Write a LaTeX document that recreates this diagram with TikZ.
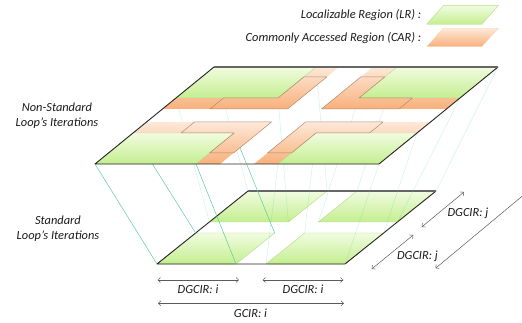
\documentclass[tikz,border=0pt]{standalone}
\usepackage{fontspec}
\setmainfont{Carlito}
\usetikzlibrary{arrows.meta}

\definecolor{lrtop}{HTML}{F1FCE0}
\definecolor{lrbot}{HTML}{C4EE90}
\definecolor{lredge}{HTML}{B2DC84}
\definecolor{cartop}{HTML}{FDE8D9}
\definecolor{carbot}{HTML}{F8B07A}
\definecolor{caredge}{HTML}{B48A6C}
\definecolor{mint}{HTML}{5CCF98}
\definecolor{txt}{HTML}{1A1A1A}
\definecolor{dimarrow}{HTML}{5A5A5A}

\tikzset{barb/.tip={Straight Barb[length=2.6pt,width=5pt]}}

\begin{document}
\begin{tikzpicture}[x=1pt,y=-1pt,
  topplane/.style={shift={(95,164)}, x={(1pt,0pt)}, y={(1.2268pt,1pt)}},
  lowplane/.style={shift={(157,264)}, x={(1pt,0pt)}, y={(1.247pt,1pt)}},
  lrregion/.style={top color=lrtop, bottom color=lrbot, draw=lredge, line width=0.4pt},
  carregion/.style={top color=cartop, bottom color=carbot},
  carline/.style={draw=caredge, line width=0.5pt, line join=round},
  rim/.style={draw=black!85, line width=0.9pt, line join=round},
  rimtop/.style={draw=black!60, line width=1.1pt},
  brightlink/.style={draw=mint, line width=0.5pt},
  faintlink/.style={draw=mint, draw opacity=0.28, line width=0.5pt},
  dim/.style={draw=dimarrow, line width=0.5pt, barb-barb},
  lbl/.style={font=\fontsize{12.4}{15.5}\selectfont\itshape, text=txt, inner sep=0pt, align=center}]

\useasboundingbox (0,0) rectangle (522,323);

% ---- corner points of the localizable regions, upper plane
\begin{scope}[topplane]
  \coordinate (tLL1) at (0,0);    \coordinate (tLL2) at (101,0);
  \coordinate (tLL3) at (101,31); \coordinate (tLL4) at (0,31);
  \coordinate (tLR1) at (183,0);  \coordinate (tLR2) at (284,0);
  \coordinate (tLR3) at (284,31); \coordinate (tLR4) at (183,31);
  \coordinate (tUL1) at (0,66);   \coordinate (tUL2) at (102,66);
  \coordinate (tUL3) at (102,97); \coordinate (tUL4) at (0,97);
  \coordinate (tUR1) at (183,66); \coordinate (tUR2) at (284,66);
  \coordinate (tUR3) at (284,97); \coordinate (tUR4) at (183,97);
\end{scope}

% ---- lower plane: standard iterations
\begin{scope}[lowplane]
  \coordinate (bLL1) at (0,0);    \coordinate (bLL2) at (79,0);
  \coordinate (bLL3) at (79,31);  \coordinate (bLL4) at (0,31);
  \coordinate (bLR1) at (109,0);  \coordinate (bLR2) at (188,0);
  \coordinate (bLR3) at (188,31); \coordinate (bLR4) at (109,31);
  \coordinate (bUL1) at (0,42);   \coordinate (bUL2) at (79,42);
  \coordinate (bUL3) at (79,73);  \coordinate (bUL4) at (0,73);
  \coordinate (bUR1) at (109,42); \coordinate (bUR2) at (188,42);
  \coordinate (bUR3) at (188,73); \coordinate (bUR4) at (109,73);
  \coordinate (lp1) at (0,0);   \coordinate (lp2) at (188,0);
  \coordinate (lp3) at (188,73); \coordinate (lp4) at (0,73);

  \foreach \r in {LL,LR,UL,UR}
    \path[lrregion] (b\r1) -- (b\r2) -- (b\r3) -- (b\r4) -- cycle;

  \draw[rim] (lp4) -- (lp1) -- (lp2) -- (lp3);
  \draw[rimtop] (lp3) -- (lp4);
\end{scope}

% ---- links between matching corners of the two planes
\foreach \k in {1,...,4}
  \draw[brightlink] (tLL\k) -- (bLL\k);
\foreach \r in {LR,UL,UR}
  \foreach \k in {1,...,4}
    \draw[faintlink] (t\r\k) -- (b\r\k);

% ---- upper plane: non-standard iterations
\begin{scope}[topplane]
  \coordinate (tp1) at (0,0);    \coordinate (tp2) at (284,0);
  \coordinate (tp3) at (284,97); \coordinate (tp4) at (0,97);

  % commonly accessed regions
  \path[carregion] (0,55) -- (125,55) -- (125,97) -- (102,97) -- (102,66) -- (0,66) -- cycle;
  \path[carregion] (159,55) -- (284,55) -- (284,66) -- (183,66) -- (183,97) -- (159,97) -- cycle;
  \path[carregion] (0,31) -- (101,31) -- (101,0) -- (125,0) -- (125,42) -- (0,42) -- cycle;
  \path[carregion] (159,0) -- (183,0) -- (183,31) -- (284,31) -- (284,42) -- (159,42) -- cycle;

  % localizable regions
  \foreach \r in {LL,LR,UL,UR}
    \path[lrregion] (t\r1) -- (t\r2) -- (t\r3) -- (t\r4) -- cycle;

  % outlined cores of the CAR strips
  \draw[carline] (47.5,55) -- (125,55) -- (125,87) -- (102,87) -- (102,66) -- (47.5,66) -- cycle;
  \draw[carline] (159,55) -- (236.5,55) -- (236.5,66) -- (183,66) -- (183,87) -- (159,87) -- cycle;
  \draw[carline] (48,31) -- (48,42) -- (125,42) -- (125,11) -- (101,11) -- (101,31) -- cycle;
  \draw[carline] (159,11) -- (183,11) -- (183,31) -- (236.5,31) -- (236.5,42) -- (159,42) -- cycle;

  \draw[rim] (tp4) -- (tp1) -- (tp2) -- (tp3);
  \draw[rimtop] (tp3) -- (tp4);
\end{scope}

% ---- side labels
\node[lbl] (nonstd) at (57,115.5) {Non-Standard\\Loop's Iterations};
\node[lbl] (std) at (58,228.5) {Standard\\Loop's Iterations};

% ---- distance markers
\coordinate (di1a) at (157.5,280);  \coordinate (di1b) at (239,280);
\coordinate (di2a) at (262.5,280);  \coordinate (di2b) at (343.5,280);
\coordinate (gia)  at (158,303.3);  \coordinate (gib)  at (344,303.3);
\coordinate (dj1a) at (421.7,227);  \coordinate (dj1b) at (464,192);
\coordinate (dj2a) at (371.7,269);  \coordinate (dj2b) at (413.3,235);
\coordinate (gja)  at (435.5,268.3); \coordinate (gjb)  at (522,196.3);

\draw[dim] (di1a) -- (di1b);
\draw[dim] (di2a) -- (di2b);
\draw[dim] (gia) -- (gib);
\draw[dim] (dj1a) -- (dj1b);
\draw[dim] (dj2a) -- (dj2b);
\draw[draw=dimarrow, line width=0.5pt, barb-] (gja) -- (gjb);

\node[lbl] (ldi1) at (198,289.5) {DGCIR: i};
\node[lbl] (ldi2) at (303,289.5) {DGCIR: i};
\node[lbl] (lgi)  at (250.5,313.5) {GCIR: i};
\node[lbl] (ldj1) at (468,213) {DGCIR: j};
\node[lbl] (ldj2) at (417.5,256) {DGCIR: j};

% ---- legend
\node[lbl, anchor=east] (keylr) at (421.5,15.5) {Localizable Region (LR) :};
\node[lbl, anchor=east] (keycar) at (421.5,38) {Commonly Accessed Region (CAR) :};
\path[lrregion] (426.7,24.3) -- (443.3,5.7) -- (498.3,5.7) -- (481.7,24.3) -- cycle;
\path[carregion, draw=cartop!60!carbot, line width=0.4pt] (426.7,46.7) -- (443.3,28.3) -- (498.3,28.3) -- (481.7,46.7) -- cycle;

\end{tikzpicture}
\end{document}
